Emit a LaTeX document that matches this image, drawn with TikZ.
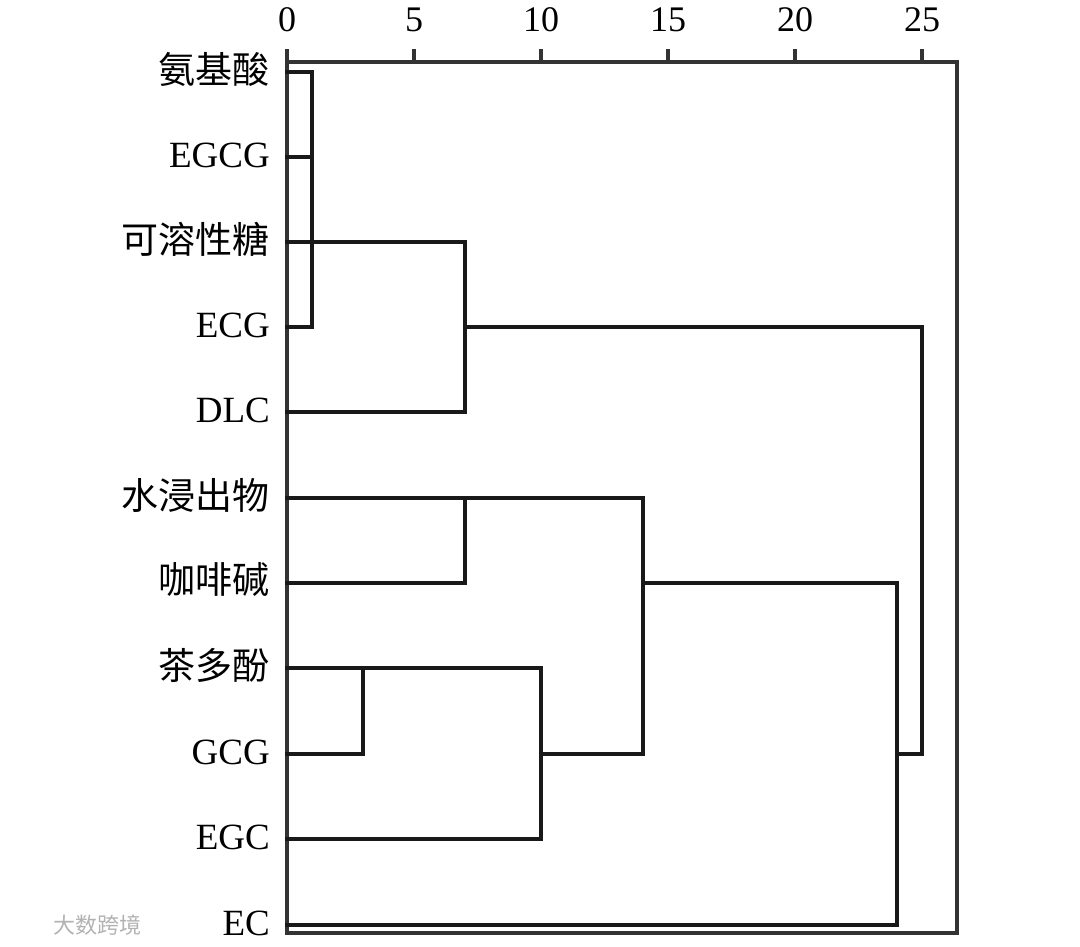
\documentclass[tikz,border=0pt]{standalone}
\usepackage{fontspec}
\setmainfont{Liberation Serif}
\newfontfamily\cjk{Noto Sans CJK SC}
\begin{document}
\begin{tikzpicture}[x=1pt,y=-1pt,
  dline/.style={line width=3.4pt,black!90,line cap=rect},
  frameline/.style={line width=3.2pt,black!80},
  lab/.style={anchor=east,inner sep=0pt,font=\fontsize{37}{37}\selectfont},
  tick/.style={anchor=base,inner sep=0pt,font=\fontsize{36}{36}\selectfont},
  wmark/.style={inner sep=0pt,text=black!30,font=\cjk\fontsize{22}{22}\selectfont}]
\useasboundingbox (0,0) rectangle (1080,947);
% leaf coordinates
\foreach \n/\y in {1/72,2/157,3/242,4/327,5/412,6/498,7/583,8/668,9/754,10/839,11/925}{
  \coordinate (L\n) at (287,\y);
}
% labels
\node[lab] (t1) at (270,69) {\cjk 氨基酸};
\node[lab] (t2) at (270,155) {EGCG};
\node[lab] (t3) at (270,239) {\cjk 可溶性糖};
\node[lab] (t4) at (270,325) {ECG};
\node[lab] (t5) at (270,410) {DLC};
\node[lab] (t6) at (270,495) {\cjk 水浸出物};
\node[lab] (t7) at (270,580) {\cjk 咖啡碱};
\node[lab] (t8) at (270,665) {\cjk 茶多酚};
\node[lab] (t9) at (270,752) {GCG};
\node[lab] (t10) at (270,837) {EGC};
\node[lab] (t11) at (270,923) {EC};
% axis
\coordinate (A0) at (287,62);
\coordinate (AR) at (957,62);
\coordinate (BR) at (957,933);
\coordinate (BL) at (287,933);
\coordinate (AT) at (287,49);
\draw[frameline] (A0) -- (AR) -- (BR) -- (BL) -- (AT);
\foreach \v [count=\i from 0] in {0,5,10,15,20,25}{
  \coordinate (k\i) at ({287+127*\i},62);
  \draw[frameline] (k\i) -- ++(0,-13);
  \node[tick] (n\i) at ({287+127*\i},32) {\v};
}
% merge coordinates
\coordinate (m1a) at (312,72);
\coordinate (m1b) at (312,327);
\coordinate (m1c) at (312,157);
\coordinate (m2a) at (465,242);
\coordinate (m2b) at (465,412);
\coordinate (m2c) at (465,327);
\coordinate (r1) at (922,327);
\coordinate (r2) at (922,754);
\coordinate (r3) at (897,754);
\coordinate (m3a) at (465,498);
\coordinate (m3b) at (465,583);
\coordinate (m4a) at (643,498);
\coordinate (m4b) at (643,754);
\coordinate (m4c) at (643,583);
\coordinate (m5a) at (363,668);
\coordinate (m5b) at (363,754);
\coordinate (m6a) at (541,668);
\coordinate (m6b) at (541,839);
\coordinate (m6c) at (541,754);
\coordinate (m7a) at (897,583);
\coordinate (m7b) at (897,925);
% dendrogram
\draw[dline] (L1) -- (m1a) -- (m1b) -- (L4);
\draw[dline] (L2) -- (m1c);
\draw[dline] (L3) -- (m2a) -- (m2b) -- (L5);
\draw[dline] (m2c) -- (r1) -- (r2) -- (r3);
\draw[dline] (L6) -- (m4a) -- (m4b) -- (m6c);
\draw[dline] (m3a) -- (m3b) -- (L7);
\draw[dline] (m4c) -- (m7a) -- (m7b) -- (L11);
\draw[dline] (L8) -- (m6a) -- (m6b) -- (L10);
\draw[dline] (m5a) -- (m5b) -- (L9);
% watermark
\node[wmark] (wm) at (97,925) {大数跨境};
\end{tikzpicture}
\end{document}
